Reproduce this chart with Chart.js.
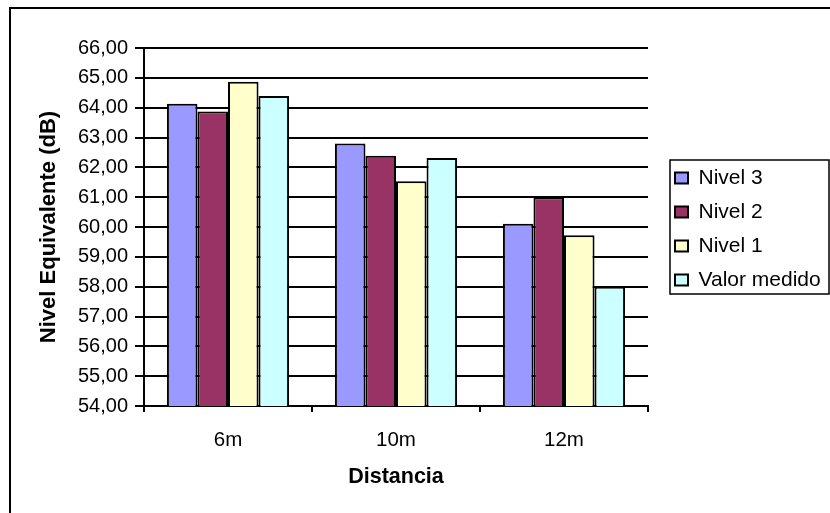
<!DOCTYPE html>
<html lang="es">
<head>
<meta charset="UTF-8" />
<title>Nivel Equivalente por Distancia</title>
<script src="https://cdn.jsdelivr.net/npm/chart.js"></script>
<style>
  html, body { margin: 0; padding: 0; background: #fff; }
  #wrap { width: 830px; height: 513px; }
</style>
</head>
<body>
<div id="wrap"><canvas id="nivelChart" width="830" height="513"></canvas></div>
<script>
// datos
const distancias = ['6m', '10m', '12m'];
const nivel3 = [64.13, 62.80, 60.11];
const nivel2 = [63.87, 62.39, 61.00];
const nivel1 = [64.87, 61.53, 59.72];
const valorMedido = [64.39, 62.31, 58.00];
const yMin = 54, yMax = 66, yStep = 1;

const FONT = 'Arial, "Liberation Sans", sans-serif';
const LEG_PAD = 13;

// marco exterior + recuadro de la leyenda
const marcoPlugin = {
  id: 'marco',
  beforeLayout(chart) {
    const lg = chart.legend;
    if (lg && !lg._fijado) {
      const fit = lg.fit.bind(lg);
      lg.fit = function () { fit(); this.width = 182; };
      lg._fijado = true;
    }
  },
  afterLayout(chart) {
    const lg = chart.legend;
    lg.left += 14;
    lg.right += 14;
    lg.top += 2;
    lg.bottom += 2;
  },
  beforeDraw(chart) {
    const ctx = chart.ctx;
    ctx.save();
    ctx.fillStyle = '#fff';
    ctx.fillRect(0, 0, chart.width, chart.height);
    ctx.strokeStyle = '#000';
    ctx.lineWidth = 2;
    ctx.strokeRect(10, 8, chart.width + 10, chart.height + 10);
    ctx.restore();
  },
  afterDraw(chart) {
    const lg = chart.legend;
    const ctx = chart.ctx;
    const col = lg.columnSizes[0];
    const start = (lg.top + LEG_PAD + lg.bottom - col.height) / 2;
    const left = lg.left + LEG_PAD - 5;
    ctx.save();
    ctx.strokeStyle = '#000';
    ctx.lineWidth = 1.5;
    ctx.strokeRect(left, start - 7.5, chart.width - left - 1, col.height - 2);
    ctx.restore();
  }
};

new Chart(document.getElementById('nivelChart'), {
  type: 'bar',
  data: {
    labels: distancias,
    datasets: [
      { label: 'Nivel 3', data: nivel3, backgroundColor: '#9999FF' },
      { label: 'Nivel 2', data: nivel2, backgroundColor: '#993366' },
      { label: 'Nivel 1', data: nivel1, backgroundColor: '#FFFFCC' },
      { label: 'Valor medido', data: valorMedido, backgroundColor: '#CCFFFF' }
    ].map(d => Object.assign(d, { borderColor: '#000', borderWidth: 2, borderSkipped: false }))
  },
  options: {
    responsive: false,
    animation: false,
    devicePixelRatio: 1,
    layout: { padding: { top: 48, left: 0, right: 0, bottom: 0 } },
    datasets: { bar: { barPercentage: 1, categoryPercentage: 0.727 } },
    plugins: {
      tooltip: { enabled: false },
      legend: {
        position: 'right',
        fullSize: false,
        align: 'center',
        labels: {
          color: '#000',
          font: { family: FONT, size: 21 },
          boxWidth: 13,
          boxHeight: 11,
          padding: LEG_PAD
        }
      }
    },
    scales: {
      x: {
        afterFit(scale) { scale.height = 107; },
        grid: { drawOnChartArea: false, drawTicks: true, tickLength: 6, color: '#000', lineWidth: 2 },
        border: { color: '#000', width: 2 },
        ticks: { color: '#000', font: { family: FONT, size: 20.5 }, padding: 16 },
        title: { display: true, text: 'Distancia', color: '#000', font: { family: FONT, size: 21.5, weight: 'bold' }, padding: { bottom: 23 } }
      },
      y: {
        min: yMin,
        max: yMax,
        afterFit(scale) { scale.width = 144; },
        grid: { color: '#000', lineWidth: 2, tickLength: 9 },
        border: { color: '#000', width: 2 },
        ticks: {
          stepSize: yStep,
          color: '#000',
          padding: 7,
          font: { family: FONT, size: 20 },
          callback: v => v.toFixed(2).replace('.', ',')
        },
        title: { display: true, text: 'Nivel Equivalente (dB)', color: '#000', font: { family: FONT, size: 22, weight: 'bold' }, padding: { top: 36 } }
      }
    }
  },
  plugins: [marcoPlugin]
});
</script>
</body>
</html>
